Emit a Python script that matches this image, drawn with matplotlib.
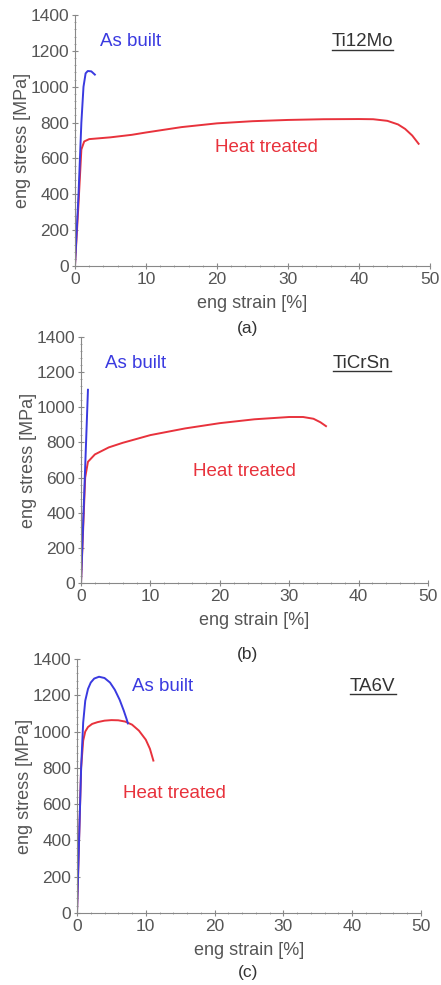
import numpy as np
import matplotlib
matplotlib.use("Agg")
import matplotlib.pyplot as plt
from matplotlib.ticker import MultipleLocator
from matplotlib.lines import Line2D

plt.rcParams['font.family'] = ['Liberation Sans', 'DejaVu Sans']

BLUE = '#3a3ae0'
RED = '#e8323c'
GRAY = '#555555'

# Ti12Mo
a_built_x = [0, 0.5, 0.9, 1.2, 1.5, 1.8, 2.3, 2.8]
a_built_y = [0, 400, 800, 1000, 1075, 1088, 1086, 1068]
a_heat_x = [0, 0.5, 0.9, 1.3, 2, 5, 8, 10, 15, 20, 25, 30, 35, 40, 42, 44, 45.5, 46.5, 47.5, 48.4]
a_heat_y = [0, 350, 650, 695, 708, 718, 732, 745, 775, 796, 808, 815, 819, 820, 819, 810, 790, 765, 728, 682]

# TiCrSn
b_built_x = [0, 1.0]
b_built_y = [0, 1100]
b_heat_x = [0, 0.3, 0.6, 1, 2, 4, 6, 10, 15, 20, 25, 30, 32, 33.5, 34.5, 35.3]
b_heat_y = [0, 300, 600, 690, 732, 772, 798, 842, 880, 910, 932, 945, 945, 935, 915, 893]

# TA6V
c_built_x = [0, 0.3, 0.6, 0.9, 1.2, 1.6, 2.0, 2.5, 3.2, 4, 4.8, 5.5, 6.2, 6.8, 7.2, 7.4]
c_built_y = [0, 400, 800, 1050, 1170, 1235, 1270, 1292, 1302, 1295, 1270, 1230, 1175, 1115, 1070, 1045]
c_heat_x = [0, 0.3, 0.6, 0.9, 1.2, 1.6, 2.2, 3, 4, 5, 6, 7, 8, 9, 10, 10.6, 11.1]
c_heat_y = [0, 400, 800, 950, 1000, 1025, 1042, 1052, 1060, 1063, 1062, 1055, 1038, 1005, 955, 905, 840]

panels = [
    dict(rect=[0.170, 0.7299, 0.805, 0.2548], alloy='Ti12Mo', tag='(a)',
         built=(a_built_x, a_built_y), heat=(a_heat_x, a_heat_y),
         built_pos=(3.5, 1250), alloy_pos=(36.2, 1250), heat_pos=(19.7, 664)),
    dict(rect=[0.1837, 0.4081, 0.7868, 0.2497], alloy='TiCrSn', tag='(b)',
         built=(b_built_x, b_built_y), heat=(b_heat_x, b_heat_y),
         built_pos=(3.5, 1252), alloy_pos=(36.3, 1252), heat_pos=(16.1, 637)),
    dict(rect=[0.1746, 0.0731, 0.780, 0.2579], alloy='TA6V', tag='(c)',
         built=(c_built_x, c_built_y), heat=(c_heat_x, c_heat_y),
         built_pos=(8.0, 1251), alloy_pos=(39.7, 1251), heat_pos=(6.7, 661)),
]

fig = plt.figure(figsize=(4.41, 9.85), dpi=100)
alloy_texts = []

for p in panels:
    ax = fig.add_axes(p['rect'])
    ax.plot(*p['heat'], color=RED, lw=1.4)
    ax.plot(*p['built'], color=BLUE, lw=1.4)
    ax.set_xlim(0, 50)
    ax.set_ylim(0, 1400)
    ax.xaxis.set_major_locator(MultipleLocator(10))
    ax.xaxis.set_minor_locator(MultipleLocator(2))
    ax.yaxis.set_major_locator(MultipleLocator(200))
    ax.yaxis.set_minor_locator(MultipleLocator(40))
    for s in ['top', 'right']:
        ax.spines[s].set_visible(False)
    for s in ['left', 'bottom']:
        ax.spines[s].set_color('#888888')
        ax.spines[s].set_linewidth(0.8)
    ax.tick_params(which='major', direction='inout', length=4, width=0.8,
                   color='#888888', labelcolor=GRAY, labelsize=12.5, pad=2)
    ax.tick_params(which='minor', direction='inout', length=2, width=0.6, color='#999999')
    ax.set_xlabel('eng strain [%]', fontsize=13, color=GRAY, labelpad=6)
    ax.set_ylabel('eng stress [MPa]', fontsize=13, color=GRAY, labelpad=0)
    ax.text(*p['built_pos'], 'As built', color=BLUE, fontsize=13.5, va='center', ha='left')
    ax.text(*p['heat_pos'], 'Heat treated', color=RED, fontsize=13.5, va='center', ha='left')
    t = ax.text(*p['alloy_pos'], p['alloy'], color='#333333',
                fontsize=13.5, va='center', ha='left')
    alloy_texts.append(t)

fig.text(0.562, 1 - 329 / 985, '(a)', fontsize=12.5, color='#333333', ha='center', va='center')
fig.text(0.562, 1 - 655 / 985, '(b)', fontsize=12.5, color='#333333', ha='center', va='center')
fig.text(0.562, 1 - 972 / 985, '(c)', fontsize=12.5, color='#333333', ha='center', va='center')

# underline the alloy names
fig.canvas.draw()
renderer = fig.canvas.get_renderer()
for t in alloy_texts:
    bb = t.get_window_extent(renderer).transformed(fig.transFigure.inverted())
    y = bb.y0 + 0.0008
    fig.add_artist(Line2D([bb.x0, bb.x1], [y, y], color='#333333', lw=1.0,
                          transform=fig.transFigure))

fig.savefig('out.png', dpi=100)
